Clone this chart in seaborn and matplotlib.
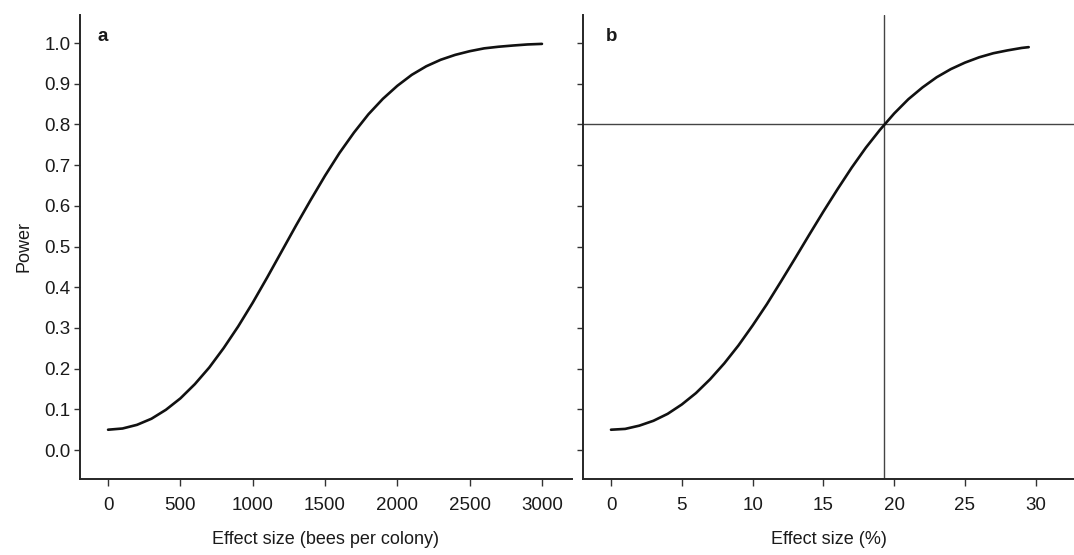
import numpy as np
import pandas as pd
import matplotlib
matplotlib.use("Agg")
import matplotlib.pyplot as plt
import seaborn as sns

# Panel a: power against effect size in bees per colony
effect_bees = [0, 100, 200, 300, 400, 500, 600, 700, 800, 900, 1000,
               1100, 1200, 1300, 1400, 1500, 1600, 1700, 1800, 1900, 2000,
               2100, 2200, 2300, 2400, 2500, 2600, 2700, 2800, 2900, 3000]
power_bees = [0.050, 0.053, 0.062, 0.077, 0.099, 0.127, 0.162, 0.203, 0.251,
              0.304, 0.362, 0.424, 0.488, 0.552, 0.614, 0.674, 0.730, 0.780,
              0.825, 0.863, 0.895, 0.922, 0.943, 0.959, 0.971, 0.980, 0.987,
              0.991, 0.994, 0.9966, 0.998]

# Panel b: power against effect size in percent
effect_pct = [0, 1, 2, 3, 4, 5, 6, 7, 8, 9, 10, 11, 12, 13, 14, 15, 16, 17,
              18, 19, 20, 21, 22, 23, 24, 25, 26, 27, 28, 29, 29.5]
power_pct = [0.050, 0.052, 0.060, 0.072, 0.089, 0.112, 0.140, 0.174, 0.213,
             0.257, 0.306, 0.358, 0.414, 0.471, 0.529, 0.586, 0.641, 0.694,
             0.743, 0.787, 0.827, 0.862, 0.891, 0.916, 0.936, 0.952, 0.965,
             0.975, 0.982, 0.988, 0.990]

# Reference lines: target power and the effect size that reaches it
target_power = 0.8
detectable_pct = 19.3

y_ticks = [0.0, 0.1, 0.2, 0.3, 0.4, 0.5, 0.6, 0.7, 0.8, 0.9, 1.0]
x_ticks_a = [0, 500, 1000, 1500, 2000, 2500, 3000]
x_ticks_b = [0, 5, 10, 15, 20, 25, 30]

sns.set_style("ticks")
plt.rcParams["font.family"] = ["Liberation Sans", "DejaVu Sans"]
plt.rcParams["axes.linewidth"] = 1.4
plt.rcParams["xtick.major.width"] = 1.0
plt.rcParams["ytick.major.width"] = 1.0
plt.rcParams["xtick.major.size"] = 5
plt.rcParams["ytick.major.size"] = 4
plt.rcParams["xtick.major.pad"] = 8
plt.rcParams["ytick.major.pad"] = 3

text_col = "#1a1a1a"

fig = plt.figure(figsize=(10.74, 5.55), dpi=100)
ax_a = fig.add_axes([0.0745, 0.137, 0.458, 0.836])
ax_b = fig.add_axes([0.5428, 0.137, 0.4572, 0.836])

df_a = pd.DataFrame({"effect": effect_bees, "power": power_bees})
df_b = pd.DataFrame({"effect": effect_pct, "power": power_pct})

sns.lineplot(data=df_a, x="effect", y="power", ax=ax_a, color="#111111", lw=1.9)
sns.lineplot(data=df_b, x="effect", y="power", ax=ax_b, color="#111111", lw=1.9)

ax_b.axhline(target_power, color="#444444", lw=1.0, zorder=1)
ax_b.axvline(detectable_pct, color="#444444", lw=1.0, zorder=1)

for ax in (ax_a, ax_b):
    ax.set_ylim(-0.071, 1.069)
    ax.set_yticks(y_ticks)
    sns.despine(ax=ax)
    ax.tick_params(labelsize=13.5, colors="#333333", labelcolor=text_col)

ax_a.set_xlim(-194, 3207)
ax_a.set_xticks(x_ticks_a)
ax_a.set_yticklabels([f"{t:.1f}" for t in y_ticks])
ax_a.set_xlabel("Effect size (bees per colony)", fontsize=13, labelpad=12,
                color=text_col)
ax_a.set_ylabel("Power", fontsize=13, labelpad=8, color=text_col)

ax_b.set_xlim(-1.98, 32.7)
ax_b.set_xticks(x_ticks_b)
ax_b.set_yticklabels([])
ax_b.set_xlabel("Effect size (%)", fontsize=13, labelpad=12, color=text_col)
ax_b.set_ylabel("")

ax_a.text(0.035, 0.972, "a", transform=ax_a.transAxes, fontsize=13.5,
          fontweight="bold", va="top", ha="left", color=text_col)
ax_b.text(0.047, 0.972, "b", transform=ax_b.transAxes, fontsize=13.5,
          fontweight="bold", va="top", ha="left", color=text_col)

fig.savefig("out.png", dpi=100, facecolor="white")
